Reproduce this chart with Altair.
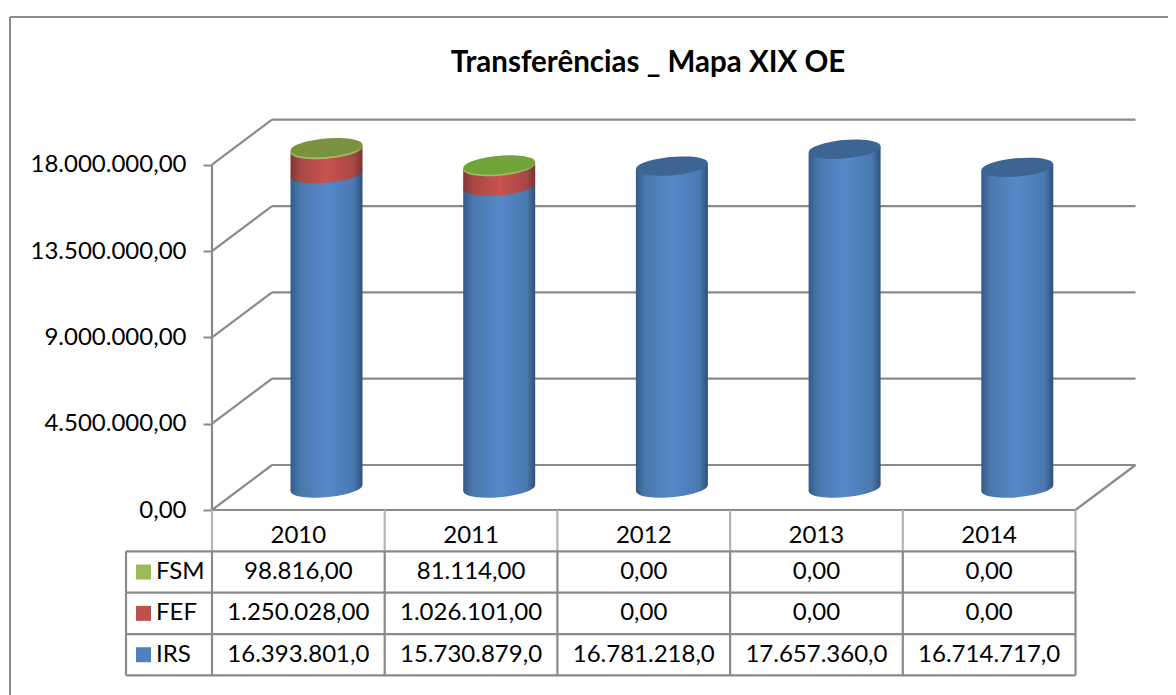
import altair as alt
import pandas as pd

# ---------- values ----------
years = ["2010", "2011", "2012", "2013", "2014"]
irs = [16393801.0, 15730879.0, 16781218.0, 17657360.0, 16714717.0]
fef = [1250028.0, 1026101.0, 0.0, 0.0, 0.0]
fsm = [98816.0, 81114.0, 0.0, 0.0, 0.0]
ticks = [0, 4500000, 9000000, 13500000, 18000000]
irs_labels = ["16.393.801,0", "15.730.879,0", "16.781.218,0", "17.657.360,0", "16.714.717,0"]
fef_labels = ["1.250.028,00", "1.026.101,00", "0,00", "0,00", "0,00"]
fsm_labels = ["98.816,00", "81.114,00", "0,00", "0,00", "0,00"]
series = ["FSM", "FEF", "IRS"]
series_colors = ["#9bbb59", "#c0504d", "#4f81bd"]
top_colors = ["#7a913f", "#71a33b", "#3c6594", "#3c6594", "#3c6594"]
title = "Transferências _ Mapa XIX OE"

# ---------- scale set-up ----------
PAD_L = 204
W, H = 1160 - PAD_L, 687
CAT = 172.7                     # px per category
Y0, K = 502, 52129.0            # px of value 0, value per px
xs = alt.Scale(domain=[0, W / CAT], nice=False, zero=False)
ys = alt.Scale(domain=[(Y0 - H) * K, Y0 * K], nice=False, zero=False)
DX, DY = 60 / CAT, 45 * K       # depth of the 3-D box
HALF, TILT = 36 / CAT, 3.1 * K  # cylinder half width, tilt of its ends
BASE = 22 * K                   # floor height of the cylinder centre
ROW = 41.35 * K                 # table row height
GREY = "#8a8a8a"
FONT = "Lato"
centre = [i + 0.5 + 0.163 for i in range(len(years))]

y_axis = alt.Axis(
    values=ticks, domain=False, grid=False, tickSize=9, tickWidth=2,
    tickColor=GREY, labelFont=FONT, labelFontSize=24, labelColor="black", labelPadding=17,
    title=None,
    labelExpr=r"replace(replace(format(datum.value, ',.2f'), /,/g, '.'), /\.(\d\d)$/, ',$1')",
)


def X(f="x"):
    return alt.X(f"{f}:Q", scale=xs, axis=None)


def Y(f="y"):
    return alt.Y(f"{f}:Q", scale=ys, axis=y_axis, stack=None)


def rules(rows, color=GREY, width=2.2):
    return alt.Chart(pd.DataFrame(rows)).mark_rule(color=color, strokeWidth=width).encode(
        x=X(), x2="x2:Q", y=Y(), y2="y2:Q")


# ---------- 3-D box ----------
box = []
for t in ticks:
    box.append(dict(x=0, x2=DX, y=t, y2=t + DY))
    box.append(dict(x=DX, x2=5 + DX, y=t + DY, y2=t + DY))
box.append(dict(x=0, x2=5, y=0, y2=0))
box.append(dict(x=5, x2=5 + DX, y=0, y2=DY))
box.append(dict(x=0, x2=0, y=0, y2=18000000))
box_layer = rules(box)


# ---------- cylinders ----------
def gradient(edge_l, mid_a, mid, mid_b, edge_r):
    return alt.Gradient(
        gradient="linear", x1=0, x2=1, y1=0, y2=0,
        stops=[
            alt.GradientStop(offset=0, color=edge_l),
            alt.GradientStop(offset=0.13, color=mid_a),
            alt.GradientStop(offset=0.5, color=mid),
            alt.GradientStop(offset=0.88, color=mid_b),
            alt.GradientStop(offset=1, color=edge_r),
        ],
    )


G_BLUE = gradient("#345a8a", "#4a78ad", "#5688c9", "#4a79b0", "#2f507a")
G_RED = gradient("#7f3634", "#a84845", "#c9524f", "#a84745", "#7a3331")
G_GREEN = gradient("#9bbb59", "#9bbb59", "#a4c462", "#9bbb59", "#86a24c")

ELLIPSE = ("M-0.996,0.087A1,0.25,-5,1,1,0.996,-0.087"
           "A1,0.25,-5,1,1,-0.996,0.087Z")
ELL_SIZE = 72 ** 2


def segment(lows, highs, grad):
    body, ends = [], []
    for i, (lo, hi) in enumerate(zip(lows, highs)):
        if hi <= lo:
            continue
        ends.append(dict(x=centre[i], y=lo))
        body.append(dict(g=i, x=centre[i] - HALF, y=lo - TILT, y2=hi - TILT))
        body.append(dict(g=i, x=centre[i] + HALF, y=lo + TILT, y2=hi + TILT))
    end = alt.Chart(pd.DataFrame(ends)).mark_point(
        shape=ELLIPSE, size=ELL_SIZE, filled=True, fill=grad, opacity=1, strokeWidth=0
    ).encode(x=X(), y=Y())
    side = alt.Chart(pd.DataFrame(body)).mark_area(color=grad, opacity=1).encode(
        x=X(), y=Y(), y2=alt.Y2("y2"), detail="g:N")
    return [end, side]


l0 = [BASE] * 5
l1 = [a + b for a, b in zip(l0, irs)]
l2 = [a + b for a, b in zip(l1, fef)]
l3 = [a + b for a, b in zip(l2, fsm)]
cyl = segment(l0, l1, G_BLUE) + segment(l1, l2, G_RED) + segment(l2, l3, G_GREEN)

tops = alt.Chart(pd.DataFrame({"x": centre, "y": l3, "c": top_colors})).mark_point(
    shape=ELLIPSE, size=ELL_SIZE, filled=True, opacity=1, strokeWidth=0
).encode(x=X(), y=Y(), fill=alt.Fill("c:N", scale=None, legend=None))

# ---------- data table ----------
KEY_L = (126 - 212) / CAT
grid = []
for r in range(1, 5):
    grid.append(dict(x=KEY_L, x2=5, y=-r * ROW, y2=-r * ROW))
grid.append(dict(x=KEY_L, x2=KEY_L, y=-ROW, y2=-4 * ROW))
for c in range(0, 6):
    grid.append(dict(x=c, x2=c, y=-ROW, y2=-4 * ROW))
grid_layer = rules(grid)
head = rules([dict(x=c, x2=c, y=0, y2=-ROW) for c in range(0, 6)], color="#b4b4b4")


def text_layer(rows, align="center"):
    return alt.Chart(pd.DataFrame(rows)).mark_text(
        font=FONT, fontSize=24, color="black", align=align, baseline="middle"
    ).encode(x=X(), y=Y(), text="t:N")


cells = [dict(x=i + 0.5, y=-ROW / 2 - 5 * K, t=years[i]) for i in range(5)]
for r, labels in enumerate([fsm_labels, fef_labels, irs_labels]):
    cells += [dict(x=i + 0.5, y=-(r + 1.5) * ROW, t=labels[i]) for i in range(5)]
cell_layer = text_layer(cells)
names = text_layer(
    [dict(x=(156 - 212) / CAT, y=-(r + 1.5) * ROW, t=s) for r, s in enumerate(series)],
    align="left",
)
keys = alt.Chart(pd.DataFrame(
    [dict(x=(143.5 - 212) / CAT, y=-(r + 1.5) * ROW, c=series_colors[r]) for r in range(3)]
)).mark_square(size=225, opacity=1).encode(
    x=X(), y=Y(), fill=alt.Fill("c:N", scale=None, legend=None))

# ---------- outer frame ----------
frame_top = alt.Chart(pd.DataFrame({"a": [0]})).mark_rule(color=GREY, strokeWidth=2).encode(
    x=alt.value(2 - PAD_L), x2=alt.value(W), y=alt.value(9))
frame_left = alt.Chart(pd.DataFrame({"a": [0]})).mark_rule(color=GREY, strokeWidth=2).encode(
    x=alt.value(2 - PAD_L), y=alt.value(9), y2=alt.value(H))

chart = alt.layer(
    frame_top, frame_left, box_layer, *cyl, tops, head, grid_layer, keys, names, cell_layer
).properties(
    width=W, height=H,
    padding={"left": PAD_L, "top": 0, "right": 0, "bottom": 0},
    autosize=alt.AutoSizeParams(type="none"),
    background="white",
    title=alt.TitleParams(
        title, font=FONT, fontSize=29.5, fontWeight="bold", color="black",
        anchor="middle", dx=-42, dy=93, offset=0, baseline="alphabetic",
    ),
).configure_view(stroke=None)

chart.save("out.html", embed_options={"renderer": "svg", "actions": False})
